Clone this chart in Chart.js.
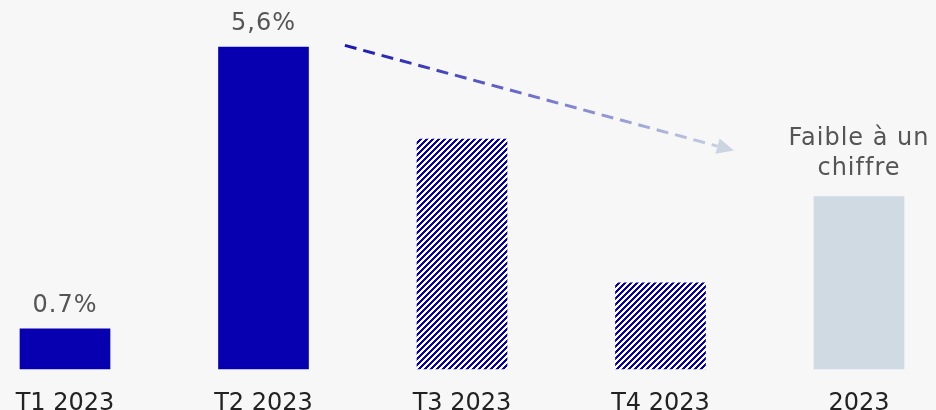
<!DOCTYPE html>
<html>
<head>
<meta charset="utf-8">
<script src="https://cdn.jsdelivr.net/npm/chart.js@4"></script>
<style>
  html, body { margin: 0; padding: 0; background: #f7f7f7; }
  #wrap { width: 936px; height: 410px; }
</style>
</head>
<body>
<div id="wrap"><canvas id="c"></canvas></div>
<script>
// --- data ---
const categories = ['T1 2023', 'T2 2023', 'T3 2023', 'T4 2023', '2023'];
const values = [0.7, 5.6, 4.0, 1.5, 3.0];
const valueLabels = ['0.7%', '5,6%', '', '', 'Faible à un\nchiffre'];
const barKinds = ['solid', 'solid', 'hatch', 'hatch', 'light'];

const BLUE = '#0600b0';
const LIGHT = '#d0dae3';
const FONT = '"DejaVu Sans", sans-serif';

// diagonal hatch tile
function makeHatch() {
    const size = 6;
    const tile = document.createElement('canvas');
    tile.width = size; tile.height = size;
    const t = tile.getContext('2d');
    t.fillStyle = '#ffffff';
    t.fillRect(0, 0, size, size);
    t.fillStyle = BLUE;
    for (let x = 0; x < size; x++) {
        for (let y = 0; y < size; y++) {
            if ((x + y) % size < 3) t.fillRect(x, y, 1, 1);
        }
    }
    return document.createElement('canvas').getContext('2d').createPattern(tile, 'repeat');
}
const hatch = makeHatch();
const barColors = barKinds.map(k => k === 'hatch' ? hatch : (k === 'light' ? LIGHT : BLUE));

// value labels above bars
const topLabels = {
    id: 'topLabels',
    afterDatasetsDraw(chart) {
        const ctx = chart.ctx;
        const meta = chart.getDatasetMeta(0);
        ctx.save();
        ctx.font = '24px ' + FONT;
        ctx.letterSpacing = '1px';
        ctx.fillStyle = '#555555';
        ctx.textAlign = 'center';
        ctx.textBaseline = 'alphabetic';
        meta.data.forEach((bar, i) => {
            const lines = valueLabels[i] ? valueLabels[i].split('\n') : [];
            const lineH = 30;
            const gap = lines.length > 1 ? 22 : 17;
            lines.forEach((line, j) => {
                const y = bar.y - gap - (lines.length - 1 - j) * lineH;
                ctx.fillText(line, bar.x, y);
            });
        });
        ctx.restore();
    }
};

// dashed trend arrow from T2 to 2023
const trendArrow = {
    id: 'trendArrow',
    afterDatasetsDraw(chart) {
        const ctx = chart.ctx;
        const xs = chart.scales.x, ys = chart.scales.y;
        const gap = xs.getPixelForValue(1) - xs.getPixelForValue(0);
        const x0 = xs.getPixelForValue(1) + gap * 0.41;
        const y0 = ys.getPixelForValue(5.63);
        const x1 = xs.getPixelForValue(4) - gap * 0.63;
        const y1 = ys.getPixelForValue(3.8);
        const ang = Math.atan2(y1 - y0, x1 - x0);
        const headLen = 17, headW = 8;
        const lx = x1 - Math.cos(ang) * headLen;
        const ly = y1 - Math.sin(ang) * headLen;

        const grad = ctx.createLinearGradient(x0, y0, x1, y1);
        grad.addColorStop(0, '#1a14b4');
        grad.addColorStop(1, '#cdd7e3');

        ctx.save();
        ctx.strokeStyle = grad;
        ctx.lineWidth = 3;
        ctx.setLineDash([12, 7]);
        ctx.beginPath();
        ctx.moveTo(x0, y0);
        ctx.lineTo(lx, ly);
        ctx.stroke();

        ctx.setLineDash([]);
        ctx.fillStyle = '#cbd5e1';
        ctx.beginPath();
        ctx.moveTo(x1, y1);
        ctx.lineTo(lx + Math.sin(ang) * headW, ly - Math.cos(ang) * headW);
        ctx.lineTo(lx - Math.sin(ang) * headW, ly + Math.cos(ang) * headW);
        ctx.closePath();
        ctx.fill();
        ctx.restore();
    }
};

new Chart(document.getElementById('c'), {
    type: 'bar',
    data: {
        labels: categories,
        datasets: [{
            data: values,
            backgroundColor: barColors,
            borderWidth: 0,
            barThickness: 90,
            clip: false
        }]
    },
    options: {
        responsive: true,
        maintainAspectRatio: false,
        animation: false,
        layout: { padding: { left: 65, right: 77, top: 0, bottom: 0 } },
        plugins: {
            legend: { display: false },
            tooltip: { enabled: false }
        },
        scales: {
            x: {
                offset: false,
                grid: { display: false },
                border: { display: false },
                ticks: {
                    color: '#222222',
                    font: { family: FONT, size: 24 },
                    padding: 12,
                    maxRotation: 0,
                    autoSkip: false
                },
                afterFit(scale) { scale.height = 41; }
            },
            y: {
                display: false,
                min: 0,
                max: 6.42
            }
        }
    },
    plugins: [topLabels, trendArrow]
});
</script>
</body>
</html>
